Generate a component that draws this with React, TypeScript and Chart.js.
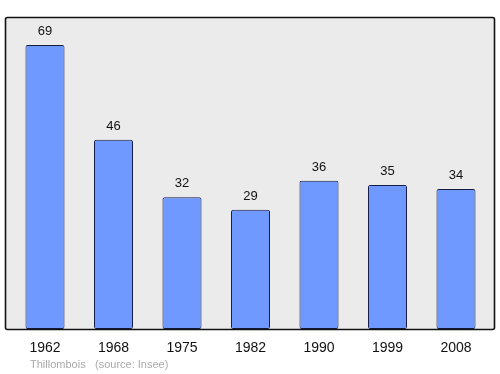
import React, { useEffect, useRef } from "react";
import { Chart, registerables } from "chart.js";

Chart.register(...registerables);

const years = ["1962", "1968", "1975", "1982", "1990", "1999", "2008"];
const population = [69, 46, 32, 29, 36, 35, 34];
const townName = "Thillombois";
const sourceText = "(source: Insee)";

const FONT = "'Liberation Sans', Arial, sans-serif";

const framePlugin = {
  id: "frame",
  beforeDraw(chart: any) {
    const ctx = chart.ctx;
    ctx.save();
    ctx.beginPath();
    if (ctx.roundRect) ctx.roundRect(5.5, 17.5, 489, 312, 2);
    else ctx.rect(5.5, 17.5, 489, 312);
    ctx.fillStyle = "#ebebeb";
    ctx.fill();
    ctx.restore();
  },
  afterDatasetsDraw(chart: any) {
    const ctx = chart.ctx;
    ctx.save();
    ctx.beginPath();
    if (ctx.roundRect) ctx.roundRect(5.5, 17.5, 489, 312, 2);
    else ctx.rect(5.5, 17.5, 489, 312);
    ctx.lineWidth = 1.6;
    ctx.strokeStyle = "#111";
    ctx.stroke();
    const meta = chart.getDatasetMeta(0);
    ctx.font = `13px ${FONT}`;
    ctx.fillStyle = "#111";
    ctx.textAlign = "center";
    ctx.textBaseline = "middle";
    meta.data.forEach((bar: any, i: number) => {
      ctx.fillText(String(population[i]), bar.x, bar.y - 13.5);
    });
    ctx.font = `11px ${FONT}`;
    ctx.fillStyle = "#aaaaaa";
    ctx.textAlign = "left";
    ctx.fillText(townName, 30, 365);
    ctx.fillText(sourceText, 95, 365);
    ctx.restore();
  },
};

export default function App() {
  const ref = useRef<HTMLCanvasElement>(null);
  useEffect(() => {
    const chart = new Chart(ref.current!, {
      type: "bar",
      data: {
        labels: years,
        datasets: [
          {
            data: population,
            backgroundColor: "#7099ff",
            borderColor: "#141c45",
            borderWidth: 1,
            borderRadius: 2,
            borderSkipped: false,
            categoryPercentage: 1,
            barPercentage: 0.57,
          },
        ],
      },
      options: {
        responsive: false,
        animation: false,
        layout: { padding: { left: 10.75, right: 9.75, top: 17, bottom: 0 } },
        plugins: { legend: { display: false }, tooltip: { enabled: false } },
        scales: {
          x: {
            grid: { display: false, drawTicks: false },
            border: { display: false },
            ticks: { color: "#111", font: { size: 14, family: FONT }, padding: 11 },
            afterFit: (s: any) => {
              s.height = 45;
            },
          },
          y: {
            display: false,
            min: 0,
            max: 75.8,
          },
        },
      },
      plugins: [framePlugin],
    });
    return () => chart.destroy();
  }, []);
  return (
    <div style={{ position: "fixed", left: 0, top: 0, width: 500, height: 374, background: "#fff" }}>
      <canvas ref={ref} width={500} height={374} style={{ display: "block" }} />
    </div>
  );
}
